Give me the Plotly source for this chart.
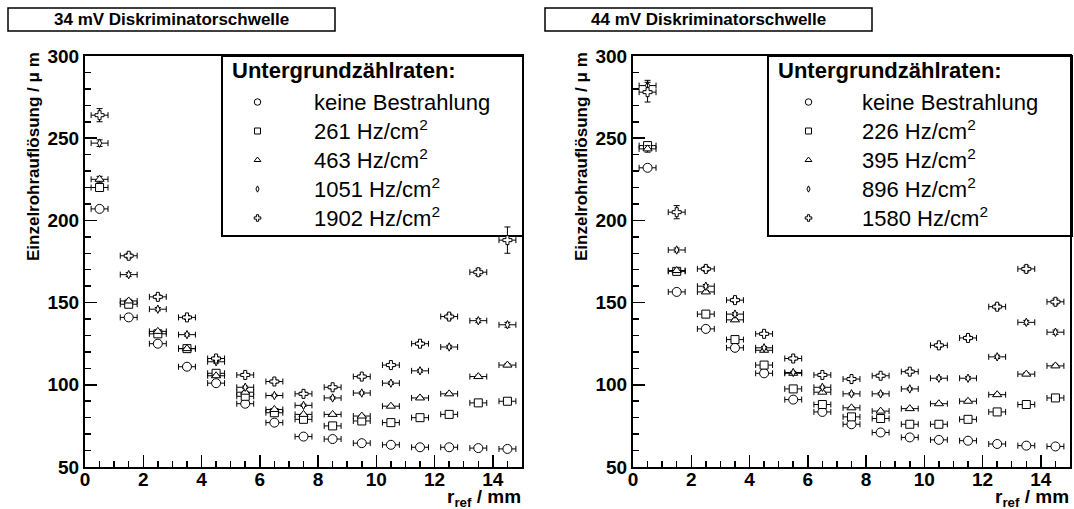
import plotly.graph_objects as go

W, H = 1074, 509

# ---------------- data ----------------
r_ref = [0.5, 1.5, 2.5, 3.5, 4.5, 5.5, 6.5, 7.5, 8.5, 9.5, 10.5, 11.5, 12.5, 13.5, 14.5]
r_err = [0.29, 0.29, 0.29, 0.29, 0.29, 0.29, 0.29, 0.29, 0.29, 0.29, 0.29, 0.29, 0.29, 0.29, 0.29]

# 34 mV threshold (left)
left_title = "34 mV Diskriminatorschwelle"
left_labels = ["keine Bestrahlung", "261 Hz/cm<sup>2</sup>", "463 Hz/cm<sup>2</sup>",
               "1051 Hz/cm<sup>2</sup>", "1902 Hz/cm<sup>2</sup>"]
left_none = [207, 141, 125, 111, 101, 88.5, 77, 68.5, 67, 64.5, 63.5, 62, 62, 61.5, 61]
left_261 = [220, 149, 131, 122, 107, 93, 83, 79, 75, 78, 77, 80, 82, 89, 90]
left_463 = [225, 151, 132.5, 122, 105.5, 95.5, 85, 82, 82, 81, 87, 92, 94.5, 105, 112]
left_1051 = [247, 167, 146, 130.5, 114, 98.5, 93.5, 87.5, 92, 95, 101, 108.5, 123, 139, 136.5]
left_1902 = [264, 178.5, 153.5, 141, 116, 106, 102, 94.5, 98.5, 105, 112, 125, 141.5, 168.5, 188]
left_none_err = [1.2, 0.8, 0.7, 0.6, 0.6, 0.5, 0.5, 0.5, 0.5, 0.5, 0.5, 0.5, 0.5, 0.5, 0.5]
left_261_err = [1.5, 1.0, 0.8, 0.7, 0.6, 0.6, 0.6, 0.6, 0.6, 0.6, 0.6, 0.6, 0.6, 0.7, 0.8]
left_463_err = [1.8, 1.0, 0.8, 0.7, 0.6, 0.6, 0.6, 0.6, 0.6, 0.6, 0.6, 0.7, 0.8, 0.9, 1.0]
left_1051_err = [2.0, 1.2, 1.0, 0.9, 0.8, 0.7, 0.7, 0.7, 0.7, 0.7, 0.8, 0.9, 1.0, 1.2, 1.5]
left_1902_err = [4.0, 1.5, 1.2, 1.2, 1.0, 1.0, 1.0, 1.0, 1.0, 1.0, 1.0, 1.2, 1.5, 2.0, 8.0]

# 44 mV threshold (right)
right_title = "44 mV Diskriminatorschwelle"
right_labels = ["keine Bestrahlung", "226 Hz/cm<sup>2</sup>", "395 Hz/cm<sup>2</sup>",
                "896 Hz/cm<sup>2</sup>", "1580 Hz/cm<sup>2</sup>"]
right_none = [232, 156.5, 134, 122.5, 107, 91, 83.5, 76, 71, 68, 66.5, 66, 64, 63, 62.5]
right_226 = [245.5, 169, 143, 127.5, 112, 97.5, 88, 80.5, 79.5, 76, 76, 79, 83.5, 88, 92]
right_395 = [243.5, 169.5, 156.5, 139.5, 121, 107, 95.5, 86, 84, 85.5, 88.5, 90, 94, 106.5, 111.5]
right_896 = [282, 182, 160, 143, 122.5, 107.5, 98.5, 94.5, 94.5, 97.5, 104, 104, 117, 138, 132]
right_1580 = [278, 205, 170.5, 151.5, 131, 116, 106, 103.5, 105.5, 108, 124, 128.5, 147.5, 170.5, 150.5]
right_none_err = [1.5, 0.8, 0.7, 0.6, 0.6, 0.5, 0.5, 0.5, 0.5, 0.5, 0.5, 0.5, 0.5, 0.5, 0.5]
right_226_err = [1.8, 1.0, 0.8, 0.7, 0.6, 0.6, 0.6, 0.6, 0.6, 0.6, 0.6, 0.6, 0.6, 0.7, 0.8]
right_395_err = [2.0, 1.0, 0.8, 0.7, 0.6, 0.6, 0.6, 0.6, 0.6, 0.6, 0.6, 0.7, 0.8, 0.9, 1.0]
right_896_err = [3.2, 1.2, 1.0, 0.9, 0.8, 0.7, 0.7, 0.7, 0.7, 0.7, 0.8, 0.9, 1.0, 1.2, 1.3]
right_1580_err = [6.0, 4.0, 1.5, 1.2, 1.0, 1.0, 1.0, 1.0, 1.0, 1.0, 1.2, 1.2, 1.5, 1.8, 1.8]

y_title = "Einzelrohrauflösung / μ m"
x_title = "r<sub>ref</sub> / mm"
legend_header = "Untergrundzählraten:"

# ---------------- styles ----------------
FONT = "Liberation Sans, Arial, Helvetica, sans-serif"
symbols = ["circle", "square", "triangle-up", "diamond-tall", "cross"]
sizes = [9, 8, 8, 6, 7.5]
legend_sizes = [6.5, 6, 6, 4.5, 5.5]


def px_x(p):
    return p / W


def px_y(p):
    return 1 - p / H


fig = go.Figure()

panels = [
    ("x", "y", "legend", left_labels,
     [left_none, left_261, left_463, left_1051, left_1902],
     [left_none_err, left_261_err, left_463_err, left_1051_err, left_1902_err]),
    ("x2", "y2", "legend2", right_labels,
     [right_none, right_226, right_395, right_896, right_1580],
     [right_none_err, right_226_err, right_395_err, right_896_err, right_1580_err]),
]

for xa, ya, lg, labels, series, errs in panels:
    for i, (lab, vals, ev) in enumerate(zip(labels, series, errs)):
        grp = lg + str(i)
        fig.add_trace(go.Scatter(
            x=r_ref, y=vals, xaxis=xa, yaxis=ya, legend=lg, legendgroup=grp,
            mode="markers", name=lab, showlegend=False,
            marker=dict(symbol=symbols[i], size=sizes[i], color="white",
                        line=dict(color="black", width=1)),
            error_x=dict(type="data", array=r_err, color="black", thickness=1, width=3),
            error_y=dict(type="data", array=ev, color="black", thickness=1, width=3),
        ))
        # legend entry (ROOT draws smaller legend markers than data markers)
        fig.add_trace(go.Scatter(
            x=[None], y=[None], xaxis=xa, yaxis=ya, legend=lg, legendgroup=grp,
            mode="markers", showlegend=True,
            name='<span style="font-size:22px">' + lab + '</span>',
            marker=dict(symbol=symbols[i], size=legend_sizes[i], color="white",
                        line=dict(color="black", width=1)),
        ))

axis_common = dict(
    showgrid=False, zeroline=False, showline=True, linecolor="black", linewidth=2,
    mirror=True, ticks="inside", ticklen=12, tickwidth=1.5, tickcolor="black",
    tickfont=dict(family=FONT, size=19, color="black", weight="bold"),
    automargin=False, fixedrange=True,
)
minor_x = dict(dtick=0.5, ticks="inside", ticklen=6, tickwidth=1.5, tickcolor="black")
minor_y = dict(dtick=10, ticks="inside", ticklen=6, tickwidth=1.5, tickcolor="black")

ydom = [px_y(467), px_y(56)]
fig.update_layout(
    xaxis=dict(domain=[px_x(85), px_x(522)], range=[0, 15], dtick=2, anchor="y",
               minor=minor_x, ticklabelstandoff=-6, **axis_common),
    yaxis=dict(domain=ydom, range=[50, 300], dtick=50, anchor="x",
               minor=minor_y, **axis_common),
    xaxis2=dict(domain=[px_x(633), px_x(1070)], range=[0, 15], dtick=2, anchor="y2",
                minor=minor_x, ticklabelstandoff=-6, **axis_common),
    yaxis2=dict(domain=ydom, range=[50, 300], dtick=50, anchor="x2",
                minor=minor_y, **axis_common),
)

legend_common = dict(
    xanchor="left", yanchor="top", bgcolor="rgba(0,0,0,0)", borderwidth=0,
    font=dict(family=FONT, size=20, color="black"), tracegroupgap=0,
    traceorder="normal", itemsizing="trace",
)
fig.update_layout(
    legend=dict(x=px_x(201), y=px_y(82.5), itemwidth=103, **legend_common),
    legend2=dict(x=px_x(755), y=px_y(82.5), itemwidth=97, **legend_common),
)

shapes = []
annotations = []
# title boxes
for (x0, x1), ttl in [((8, 335), left_title), ((545, 872), right_title)]:
    shapes.append(dict(type="rect", xref="paper", yref="paper",
                       x0=px_x(x0), x1=px_x(x1), y0=px_y(31), y1=px_y(8),
                       line=dict(color="black", width=1.5), fillcolor="white", layer="above"))
    annotations.append(dict(xref="paper", yref="paper", x=px_x((x0 + x1) / 2), y=px_y(19.5),
                            text="<b>" + ttl + "</b>", showarrow=False,
                            xanchor="center", yanchor="middle",
                            font=dict(family=FONT, size=17, color="black")))
# legend boxes + headers
for (x0, x1) in [(222, 523), (768, 1072)]:
    shapes.append(dict(type="rect", xref="paper", yref="paper",
                       x0=px_x(x0), x1=px_x(x1), y0=px_y(236), y1=px_y(56),
                       line=dict(color="black", width=2), fillcolor="white", layer="below"))
    annotations.append(dict(xref="paper", yref="paper", x=px_x(x0 + 8), y=px_y(71),
                            text="<b>" + legend_header + "</b>", showarrow=False,
                            xanchor="left", yanchor="middle",
                            font=dict(family=FONT, size=22, color="black")))
# axis titles
for xr in [85, 633]:
    annotations.append(dict(xref="paper", yref="paper", x=px_x(xr - 52), y=px_y(157),
                            text="<b>" + y_title + "</b>", showarrow=False, textangle=-90,
                            xanchor="center", yanchor="middle",
                            font=dict(family=FONT, size=17, color="black")))
for xr in [522, 1070]:
    annotations.append(dict(xref="paper", yref="paper", x=px_x(xr + 1), y=px_y(497.5),
                            text="<b>" + x_title + "</b>", showarrow=False,
                            xanchor="right", yanchor="middle",
                            font=dict(family=FONT, size=19, color="black")))

fig.update_layout(
    width=W, height=H, autosize=False,
    margin=dict(l=0, r=0, t=0, b=0, pad=0),
    paper_bgcolor="white", plot_bgcolor="white",
    shapes=shapes, annotations=annotations,
    template="none", showlegend=True,
)

# remove the page's default 8px body margin so the 1074x509 figure fills the window
fig.write_html("out.html",
               config={"displayModeBar": False, "staticPlot": True},
               post_script="document.body.style.margin='0px';"
                           "document.documentElement.style.overflow='hidden';")
